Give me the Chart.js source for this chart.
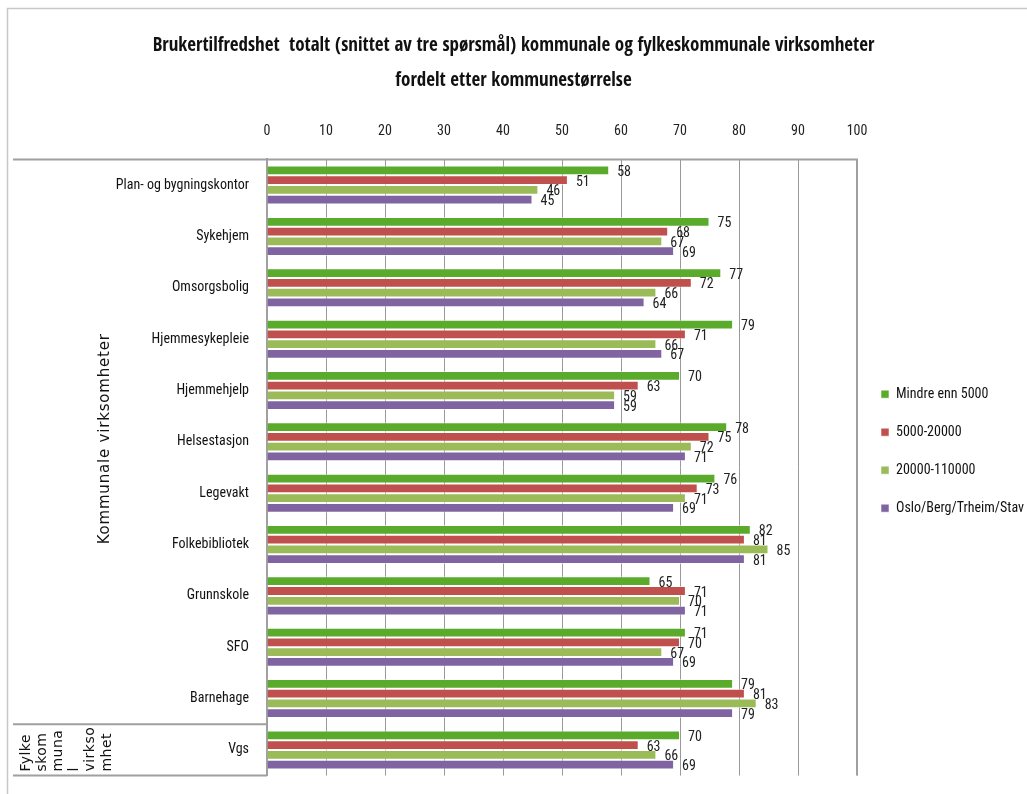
<!DOCTYPE html>
<html>
<head>
<meta charset="utf-8">
<script src="https://cdn.jsdelivr.net/npm/chart.js@4.4.0/dist/chart.umd.min.js"></script>
<style>
    body { margin: 0; background: #fff; }
    #wrap { width: 1027px; height: 794px; }
</style>
</head>
<body>
<div id="wrap"><canvas id="graficoBruker" width="1027" height="794"></canvas></div>
<script>
// Kategorier (virksomheter)
const kategorier = ['Plan- og bygningskontor', 'Sykehjem', 'Omsorgsbolig', 'Hjemmesykepleie', 'Hjemmehjelp',
    'Helsestasjon', 'Legevakt', 'Folkebibliotek', 'Grunnskole', 'SFO', 'Barnehage', 'Vgs'];

// Serier (kommunestørrelse)
const serieNavn = ['Mindre enn 5000', '5000-20000', '20000-110000', 'Oslo/Berg/Trheim/Stav'];
const mindreEnn5000 = [58, 75, 77, 79, 70, 78, 76, 82, 65, 71, 79, 70];
const fra5000til20000 = [51, 68, 72, 71, 63, 75, 73, 81, 71, 70, 81, 63];
const fra20000til110000 = [46, 67, 66, 66, 59, 72, 71, 85, 70, 67, 83, 66];
const storbyer = [45, 69, 64, 67, 59, 71, 69, 81, 71, 69, 79, 69];

const skalaMin = 0;
const skalaMax = 100;
const skalaSteg = 10;

const farger = ['#5aab2b', '#c0504d', '#9bbb59', '#8064a2'];
const smal = "'Roboto Condensed', 'Open Sans Condensed', sans-serif";

// Dataetiketter ved enden av hver stolpe
const etiketter = {
    id: 'etiketter',
    afterDatasetsDraw(chart) {
        const ctx = chart.ctx;
        ctx.save();
        ctx.font = '14px ' + smal;
        ctx.fillStyle = '#222';
        ctx.textAlign = 'left';
        ctx.textBaseline = 'middle';
        chart.data.datasets.forEach((ds, i) => {
            chart.getDatasetMeta(i).data.forEach((bar, j) => {
                ctx.fillText(ds.data[j], bar.x + 8, bar.y + 2);
            });
        });
        ctx.restore();
    }
};

// Rammer, skillelinjer og gruppetitler på venstre side
const rammer = {
    id: 'rammer',
    afterDraw(chart) {
        const ctx = chart.ctx;
        const a = chart.chartArea;
        const y = chart.scales.y;
        const skille = (y.getPixelForValue(10) + y.getPixelForValue(11)) / 2;
        ctx.save();

        // ytre ramme
        ctx.strokeStyle = '#c8c8c8';
        ctx.lineWidth = 1.5;
        ctx.strokeRect(7.5, 8.5, 1040, 800);

        // plotområdets ramme
        ctx.strokeStyle = '#a0a0a0';
        ctx.lineWidth = 2;
        ctx.beginPath();
        ctx.moveTo(13, a.top);
        ctx.lineTo(a.right, a.top);
        ctx.lineTo(a.right, a.bottom);
        ctx.moveTo(13, a.bottom);
        ctx.lineTo(a.left, a.bottom);
        ctx.moveTo(13, skille);
        ctx.lineTo(a.left, skille);
        ctx.stroke();

        // gruppetitler
        ctx.fillStyle = '#111';
        ctx.font = '15px "DejaVu Sans", sans-serif';
        ctx.letterSpacing = '0.8px';
        ctx.textAlign = 'center';
        ctx.textBaseline = 'middle';
        ctx.translate(105, (a.top + skille) / 2 - 3);
        ctx.rotate(-Math.PI / 2);
        ctx.fillText('Kommunale virksomheter', 0, 0);
        ctx.setTransform(1, 0, 0, 1, 0, 0);

        const linjer = ['Fylke', 'skom', 'muna', 'l', 'virkso', 'mhet'];
        ctx.textAlign = 'left';
        ctx.letterSpacing = '0.5px';
        ctx.font = '14px "DejaVu Sans", sans-serif';
        linjer.forEach((t, k) => {
            ctx.save();
            ctx.translate(26 + k * 16.2, a.bottom - 4);
            ctx.rotate(-Math.PI / 2);
            ctx.fillText(t, 0, 0);
            ctx.restore();
        });
        ctx.restore();
    }
};

const datasett = [mindreEnn5000, fra5000til20000, fra20000til110000, storbyer].map((d, i) => ({
    label: serieNavn[i],
    data: d,
    backgroundColor: farger[i],
    borderColor: 'rgba(255,255,255,0.55)',
    borderWidth: 1,
    barPercentage: 1,
    categoryPercentage: 0.76
}));

new Chart(document.getElementById('graficoBruker'), {
    type: 'bar',
    data: { labels: kategorier, datasets: datasett },
    plugins: [etiketter, rammer],
    options: {
        indexAxis: 'y',
        responsive: false,
        animation: false,
        layout: { padding: { left: 0, right: 0, top: 0, bottom: 18 } },
        scales: {
            x: {
                position: 'top',
                min: skalaMin,
                max: skalaMax,
                ticks: { stepSize: skalaSteg, color: '#222', padding: 20, font: { size: 14, family: smal } },
                grid: { color: '#999', lineWidth: 1, drawTicks: false },
                border: { display: false },
                afterFit(scale) { scale.height = 60.5; }
            },
            y: {
                ticks: { color: '#111', padding: 10, font: { size: 14, family: smal } },
                grid: { display: false },
                border: { color: '#a0a0a0', width: 2 },
                afterFit(scale) { scale.width = 267; }
            }
        },
        plugins: {
            title: {
                display: true,
                text: ['Brukertilfredshet  totalt (snittet av tre spørsmål) kommunale og fylkeskommunale virksomheter',
                    'fordelt etter kommunestørrelse'],
                color: '#111',
                font: { size: 19, weight: 'bold', family: "'Open Sans Condensed', 'Roboto Condensed', sans-serif", lineHeight: 1.84 },
                padding: { top: 29, bottom: 0 }
            },
            legend: {
                position: 'right',
                maxWidth: 170,
                title: { display: true, text: ' ', padding: { top: 112, bottom: 0 } },
                labels: {
                    boxWidth: 8,
                    boxHeight: 8,
                    padding: 24,
                    color: '#111',
                    font: { size: 14, family: smal }
                }
            },
            tooltip: { enabled: false }
        }
    }
});
</script>
</body>
</html>
